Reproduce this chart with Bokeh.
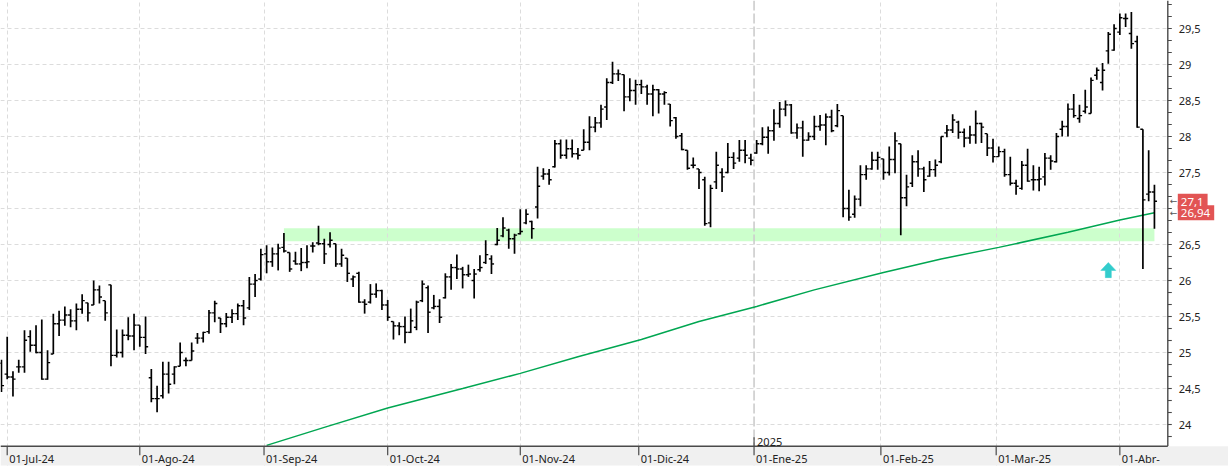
import numpy as np
import pandas as pd
from bokeh.plotting import figure
from bokeh.models import Range1d, FixedTicker, Span
from bokeh.embed import file_html
from bokeh.resources import INLINE
from bokeh.core.properties import value

FONT = "Noto Sans"

# ---------------- data ----------------
first_session = "2024-06-28"
last_session = "2025-04-09"
market_holidays = ["2024-12-25", "2024-12-26", "2025-01-01"]

month_starts = ["2024-07-01", "2024-08-01", "2024-09-01", "2024-10-01", "2024-11-01",
                "2024-12-01", "2025-01-01", "2025-02-01", "2025-03-01", "2025-04-01"]
month_labels = ["01-Jul-24", "01-Ago-24", "01-Sep-24", "01-Oct-24", "01-Nov-24",
                "01-Dic-24", "01-Ene-25", "01-Feb-25", "01-Mar-25", "01-Abr-"]
year_label = "2025"
year_start = "2025-01-01"

price_ticks = [24, 24.5, 25, 25.5, 26, 26.5, 27, 27.5, 28, 28.5, 29, 29.5]
price_tick_labels = ["24", "24,5", "25", "25,5", "26", "26,5", "27", "27,5",
                     "28", "28,5", "29", "29,5"]

OPEN = [24.85, 24.70, 24.66, 24.80, 24.80, 25.22, 25.10, 25.00, 24.63, 24.98,
        25.40, 25.45, 25.52, 25.44, 25.60, 25.69, 25.66, 25.87, 25.72, 25.94,
        24.96, 25.00, 25.24, 25.23, 25.38, 25.21, 24.65, 24.36, 24.40, 24.70,
        24.70, 24.81, 24.89, 24.89, 25.20, 25.20, 25.29, 25.55, 25.48, 25.40,
        25.49, 25.54, 25.65, 25.62, 25.95, 26.02, 26.37, 26.26, 26.37, 26.46,
        26.39, 26.27, 26.23, 26.25, 26.48, 26.52, 26.51, 26.50, 26.51, 26.23,
        26.31, 26.02, 26.10, 25.70, 25.70, 25.81, 25.86, 25.66, 25.43, 25.37,
        25.36, 25.28, 25.35, 25.72, 25.90, 25.62, 25.64, 25.76, 26.05, 26.18,
        26.16, 26.08, 26.00, 26.15, 26.25, 26.30, 26.50, 26.62, 26.70, 26.58,
        26.65, 26.80, 26.82, 27.02, 27.45, 27.48, 27.58, 27.90, 27.74, 27.83,
        27.76, 27.81, 27.92, 28.13, 28.19, 28.41, 28.75, 28.87, 28.86, 28.55,
        28.64, 28.72, 28.69, 28.59, 28.65, 28.59, 28.45, 28.26, 28.01, 27.81,
        27.60, 27.55, 27.40, 26.80, 27.37, 27.50, 27.50, 27.71, 27.70, 27.81,
        27.70, 27.77, 27.90, 27.99, 28.08, 28.18, 28.38, 28.44, 28.05, 28.12,
        27.95, 28.00, 28.14, 28.16, 28.27, 28.15, 28.29, 27.00, 26.92, 27.13,
        27.47, 27.55, 27.67, 27.69, 27.50, 27.68, 27.90, 27.15, 27.35, 27.65,
        27.55, 27.45, 27.54, 27.65, 28.05, 28.09, 28.20, 28.06, 27.98, 28.02,
        28.18, 28.04, 27.84, 27.72, 27.79, 27.47, 27.35, 27.28, 27.60, 27.40,
        27.40, 27.44, 27.70, 27.65, 28.10, 28.14, 28.38, 28.25, 28.35, 28.32,
        28.85, 28.75, 29.19, 29.20, 29.45, 29.64, 29.43, 29.32, 28.10, 27.20,
        27.23]

HIGH = [24.90, 25.22, 24.74, 24.90, 25.31, 25.31, 25.38, 25.46, 25.03, 25.54,
        25.58, 25.64, 25.60, 25.68, 25.81, 25.69, 26.00, 25.93, 25.72, 25.94,
        25.32, 25.32, 25.49, 25.54, 25.38, 25.50, 24.77, 24.54, 24.87, 24.87,
        24.81, 25.14, 24.93, 25.14, 25.27, 25.29, 25.59, 25.72, 25.48, 25.55,
        25.60, 25.68, 25.73, 26.05, 26.09, 26.44, 26.49, 26.46, 26.51, 26.66,
        26.39, 26.40, 26.45, 26.49, 26.53, 26.76, 26.58, 26.67, 26.51, 26.44,
        26.31, 26.07, 26.12, 25.74, 25.95, 25.96, 25.87, 25.73, 25.43, 25.42,
        25.50, 25.61, 25.72, 26.00, 25.93, 25.80, 25.74, 26.10, 26.23, 26.36,
        26.19, 26.22, 26.16, 26.35, 26.56, 26.35, 26.73, 26.88, 26.72, 26.65,
        26.99, 26.99, 26.83, 27.58, 27.56, 27.55, 27.95, 27.96, 27.96, 27.96,
        27.84, 28.10, 28.28, 28.27, 28.44, 28.81, 29.04, 28.93, 28.86, 28.81,
        28.79, 28.79, 28.72, 28.72, 28.66, 28.63, 28.45, 28.27, 28.05, 27.81,
        27.71, 27.55, 27.44, 27.33, 27.79, 27.56, 27.91, 27.78, 27.95, 27.95,
        27.76, 27.95, 28.13, 28.14, 28.38, 28.48, 28.50, 28.45, 28.18, 28.22,
        28.06, 28.29, 28.30, 28.32, 28.37, 28.45, 28.29, 27.26, 27.18, 27.60,
        27.60, 27.79, 27.79, 27.69, 27.86, 28.06, 27.90, 27.47, 27.74, 27.81,
        27.58, 27.66, 27.68, 28.00, 28.16, 28.31, 28.22, 28.11, 28.15, 28.36,
        28.19, 28.04, 27.97, 27.86, 27.83, 27.72, 27.40, 27.66, 27.83, 27.60,
        27.58, 27.77, 27.74, 28.05, 28.22, 28.46, 28.59, 28.44, 28.65, 28.82,
        28.96, 29.02, 29.45, 29.56, 29.71, 29.71, 29.73, 29.40, 28.10, 27.81,
        27.33]

LOW = [24.45, 24.63, 24.39, 24.72, 24.72, 25.01, 24.99, 24.62, 24.62, 24.98,
       25.23, 25.37, 25.35, 25.31, 25.54, 25.43, 25.66, 25.68, 25.44, 24.81,
       24.93, 24.93, 25.17, 25.03, 25.08, 24.98, 24.31, 24.17, 24.36, 24.43,
       24.56, 24.81, 24.81, 24.89, 25.12, 25.14, 25.26, 25.42, 25.27, 25.35,
       25.41, 25.45, 25.38, 25.59, 25.77, 26.00, 26.10, 26.19, 26.14, 26.39,
       26.12, 26.22, 26.13, 26.17, 26.39, 26.49, 26.23, 26.46, 26.19, 26.19,
       25.98, 25.91, 25.69, 25.54, 25.68, 25.76, 25.59, 25.44, 25.18, 25.24,
       25.13, 25.27, 25.31, 25.70, 25.27, 25.60, 25.41, 25.75, 25.87, 26.02,
       25.89, 26.05, 25.75, 26.12, 26.23, 26.09, 26.49, 26.60, 26.44, 26.37,
       26.64, 26.78, 26.58, 26.86, 27.40, 27.33, 27.57, 27.69, 27.69, 27.71,
       27.68, 27.81, 27.81, 28.06, 28.12, 28.23, 28.73, 28.77, 28.35, 28.49,
       28.44, 28.59, 28.44, 28.28, 28.32, 28.44, 28.14, 27.97, 27.81, 27.54,
       27.56, 27.27, 26.76, 26.74, 27.27, 27.23, 27.49, 27.55, 27.65, 27.63,
       27.60, 27.76, 27.88, 27.76, 27.94, 28.12, 28.28, 28.04, 27.97, 27.72,
       27.94, 27.95, 28.08, 27.88, 28.06, 28.13, 26.88, 26.83, 26.87, 27.03,
       27.40, 27.54, 27.54, 27.40, 27.46, 27.49, 26.63, 27.03, 27.30, 27.44,
       27.23, 27.44, 27.44, 27.63, 27.99, 28.05, 27.97, 27.85, 27.90, 27.90,
       27.91, 27.73, 27.64, 27.72, 27.44, 27.32, 27.19, 27.26, 27.37, 27.25,
       27.24, 27.32, 27.54, 27.64, 28.00, 28.00, 28.26, 28.19, 28.32, 28.32,
       28.79, 28.64, 29.01, 29.19, 29.41, 29.52, 29.22, 28.12, 26.16, 27.10,
       26.72]

CLOSE = [24.54, 24.66, 24.63, 24.80, 25.17, 25.10, 25.00, 24.63, 24.86, 25.40,
         25.45, 25.52, 25.44, 25.60, 25.72, 25.55, 25.87, 25.77, 25.55, 24.96,
         25.00, 25.24, 25.23, 25.38, 25.21, 25.08, 24.36, 24.36, 24.70, 24.56,
         24.80, 25.00, 24.89, 25.02, 25.20, 25.28, 25.55, 25.68, 25.40, 25.49,
         25.54, 25.65, 25.48, 25.95, 26.00, 26.36, 26.26, 26.37, 26.45, 26.41,
         26.16, 26.23, 26.25, 26.26, 26.48, 26.51, 26.37, 26.56, 26.23, 26.35,
         26.10, 26.05, 25.70, 25.67, 25.81, 25.86, 25.66, 25.49, 25.37, 25.36,
         25.28, 25.44, 25.70, 25.95, 25.56, 25.64, 25.49, 26.05, 26.18, 26.16,
         26.08, 26.09, 26.09, 26.18, 26.36, 26.23, 26.56, 26.73, 26.58, 26.63,
         26.68, 26.92, 26.72, 27.31, 27.48, 27.40, 27.90, 27.74, 27.83, 27.76,
         27.74, 27.92, 28.13, 28.19, 28.38, 28.75, 28.87, 28.87, 28.55, 28.64,
         28.72, 28.69, 28.59, 28.65, 28.59, 28.61, 28.22, 28.00, 27.82, 27.56,
         27.60, 27.50, 26.79, 27.28, 27.60, 27.44, 27.71, 27.63, 27.81, 27.74,
         27.67, 27.90, 27.99, 28.08, 28.18, 28.38, 28.44, 28.05, 28.12, 27.95,
         28.00, 28.14, 28.16, 28.27, 28.08, 28.36, 27.00, 26.88, 27.13, 27.47,
         27.55, 27.67, 27.71, 27.50, 27.68, 27.94, 27.15, 27.30, 27.65, 27.55,
         27.40, 27.54, 27.60, 28.00, 28.09, 28.23, 28.06, 27.98, 28.02, 28.18,
         28.13, 27.84, 27.72, 27.79, 27.47, 27.35, 27.31, 27.60, 27.38, 27.40,
         27.41, 27.70, 27.66, 28.00, 28.14, 28.38, 28.29, 28.29, 28.41, 28.78,
         28.92, 28.92, 29.42, 29.50, 29.65, 29.64, 29.29, 28.13, 27.12, 27.23,
         27.10]

# moving average (read at selected sessions, index 0 = 01-Jul-24)
ma_idx = [45, 55, 66, 79, 89, 99, 110, 120, 130, 140, 152, 162, 172, 184, 193, 199]
ma_val = [23.71, 23.96, 24.23, 24.50, 24.71, 24.94, 25.18, 25.43, 25.64, 25.87,
          26.11, 26.30, 26.46, 26.67, 26.84, 26.94]

# support band
band_from, band_to = 48, 199
band_low, band_high = 26.546, 26.727

# cyan arrow marker
arrow_x = [191]
arrow_y = [26.04]

# ---------------- sessions / x positions ----------------
sessions = pd.bdate_range(first_session, last_session)
sessions = sessions[~sessions.isin(pd.to_datetime(market_holidays))]
assert len(sessions) == len(OPEN) == len(HIGH) == len(LOW) == len(CLOSE)
first_july = int(sessions.searchsorted(pd.Timestamp("2024-07-01")))
x = np.arange(len(sessions)) - first_july


def month_pos(d):
    d = pd.Timestamp(d)
    k = int(sessions.searchsorted(d))
    pos = float(k - first_july)
    if sessions[k] != d:
        pos -= 0.45
    return pos


tick_pos = [month_pos(d) for d in month_starts]
jan_pos = month_pos(year_start)

# ---------------- geometry ----------------
PX = 5.765            # pixels per session
PY = 72.0             # pixels per price unit
X_START = -1.162
X_END = X_START + 1228 / PX
Y_TOP = 29.889
Y_BOTTOM = Y_TOP - 468 / PY
AXIS_Y = Y_TOP - 445.7 / PY      # date axis line
STRIP_Y = Y_TOP - 465 / PY       # bottom of the grey date strip
AXIS_X = X_START + 1167.3 / PX   # price axis line

p = figure(width=1228, height=468, output_backend="svg", toolbar_location=None,
           x_range=Range1d(X_START, X_END), y_range=Range1d(Y_BOTTOM, Y_TOP),
           x_axis_location=None, y_axis_location=None,
           min_border=0, outline_line_color=None,
           background_fill_color="white", border_fill_color="white")

AX = "#4a4a4a"
TXT = "#222222"
GRID = "#dcdcdc"

# grids
p.ygrid.ticker = FixedTicker(ticks=price_ticks)
p.ygrid.grid_line_color = GRID
p.ygrid.grid_line_dash = "4 3"
p.xgrid.ticker = FixedTicker(ticks=[t for t in tick_pos if abs(t - jan_pos) > 1e-6])
p.xgrid.grid_line_color = GRID
p.xgrid.grid_line_dash = "4 3"
p.add_layout(Span(location=jan_pos, dimension="height", line_color="#cccccc",
                  line_width=1.6, line_dash="10 3", level="underlay"))

# support band
p.quad(left=[band_from], right=[band_to], bottom=[band_low], top=[band_high],
       fill_color="#ccffcc", line_color=None, level="image")

# moving average
p.line(ma_idx, ma_val, line_color="#00a651", line_width=1.5)

# OHLC bars
TICK = 0.45
p.segment(x0=x, y0=LOW, x1=x, y1=HIGH, line_color="black", line_width=1.7)
p.segment(x0=x - TICK, y0=OPEN, x1=x, y1=OPEN, line_color="black", line_width=1.4)
p.segment(x0=x, y0=CLOSE, x1=x + TICK, y1=CLOSE, line_color="black", line_width=1.4)

# cyan arrow
ax0, ay0 = arrow_x[0], arrow_y[0]
head_w, shaft_w, shaft_h, head_h = 1.30, 0.52, 0.10, 0.11
p.patch([ax0 - shaft_w, ax0 + shaft_w, ax0 + shaft_w, ax0 + head_w, ax0, ax0 - head_w, ax0 - shaft_w],
        [ay0, ay0, ay0 + shaft_h, ay0 + shaft_h, ay0 + shaft_h + head_h, ay0 + shaft_h, ay0 + shaft_h],
        fill_color="#33cccc", line_color="#33cccc", line_width=0.5)

# ---- price scale strip on the right ----
p.quad(left=[AXIS_X], right=[X_END], bottom=[AXIS_Y], top=[Y_TOP],
       fill_color="white", line_color=None)
minor = [23.5 + k / 6.0 for k in range(0, 40)]
minor = [m for m in minor if AXIS_Y + 0.01 < m < Y_TOP]
p.segment(x0=[AXIS_X] * len(minor), y0=minor, x1=[AXIS_X + 4 / PX] * len(minor), y1=minor,
          line_color=AX, line_width=1.1)
p.segment(x0=[AXIS_X], y0=[AXIS_Y], x1=[AXIS_X], y1=[Y_TOP], line_color=AX, line_width=1.4)
p.text(x=[AXIS_X] * len(price_ticks), y=price_ticks, text=price_tick_labels,
       x_offset=11, y_offset=0, text_baseline="middle", text_align="left",
       text_font=value(FONT), text_font_size="11px", text_color=TXT)

# ---- date axis along the bottom strip ----
p.quad(left=[X_START], right=[X_END], bottom=[Y_BOTTOM], top=[STRIP_Y],
       fill_color="white", line_color=None)
p.quad(left=[X_START], right=[X_END], bottom=[STRIP_Y], top=[AXIS_Y],
       fill_color="#f0f0f0", line_color=None)
p.segment(x0=[X_START], y0=[AXIS_Y], x1=[AXIS_X], y1=[AXIS_Y], line_color=AX, line_width=1.4)
p.segment(x0=tick_pos, y0=[AXIS_Y] * len(tick_pos), x1=tick_pos,
          y1=[AXIS_Y - 9 / PY] * len(tick_pos), line_color=AX, line_width=1.2)
p.text(x=tick_pos, y=[AXIS_Y] * len(tick_pos), text=month_labels, x_offset=2, y_offset=5,
       text_baseline="top", text_align="left", text_font=value(FONT),
       text_font_size="11px", text_color=TXT)

# year marker
p.segment(x0=[jan_pos], y0=[AXIS_Y], x1=[jan_pos], y1=[AXIS_Y + 9 / PY],
          line_color=AX, line_width=1.2)
p.text(x=[jan_pos], y=[AXIS_Y], text=[year_label], x_offset=3, y_offset=-4,
       text_baseline="alphabetic", text_align="left", text_font=value(FONT),
       text_font_size="11px", text_color=TXT)


# ---- last-value tags (moving average underneath, close on top) ----
def fmt(v):
    s = f"{v:.2f}".rstrip("0").rstrip(".")
    return s.replace(".", ",")


TAG_LEFT = 10.0   # px right of the price axis
for v in [ma_val[-1], CLOSE[-1]]:
    txt = fmt(v)
    w = 6.6 * len(txt.replace(",", "")) + 4 + 6
    p.rect(x=[AXIS_X + (TAG_LEFT + w / 2) / PX], y=[v], width=[w], height=[15],
           width_units="screen", height_units="screen",
           fill_color="#e25454", line_color=None)
    p.text(x=[AXIS_X], y=[v], text=[txt], x_offset=TAG_LEFT + 3, y_offset=0.5,
           text_baseline="middle", text_align="left", text_font=value(FONT),
           text_font_size="11.5px", text_color="white")
p.text(x=[AXIS_X, AXIS_X], y=[CLOSE[-1], ma_val[-1]], text=["←", "←"], x_offset=2,
       text_baseline="middle", text_align="left", text_font=value("DejaVu Sans"),
       text_font_size="9px", text_color="#555555")

open("out.html", "w").write(file_html(p, INLINE))
